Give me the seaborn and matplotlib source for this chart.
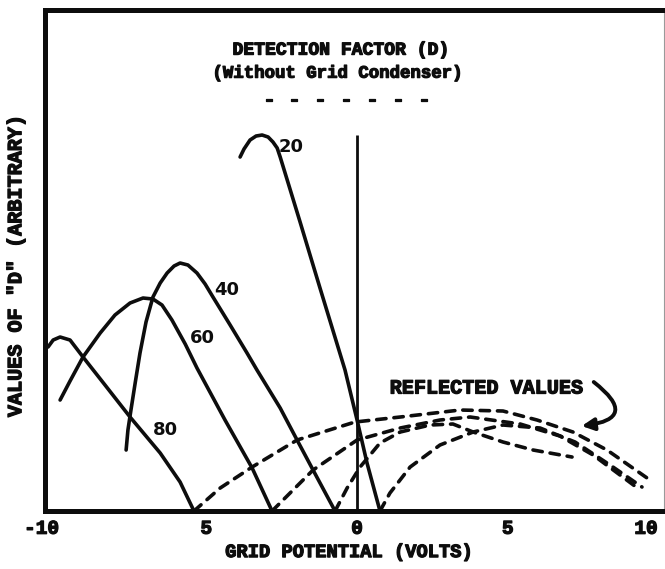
import numpy as np
import pandas as pd
import matplotlib
matplotlib.use("Agg")
import matplotlib.pyplot as plt
import matplotlib.patheffects as pe
import seaborn as sns
from matplotlib.transforms import ScaledTranslation

# ---- data (grid potential in volts, D in arbitrary units) ----
# solid curves: detection factor for plate voltages 20, 40, 60, 80
x20 = [-3.88, -3.75, -3.55, -3.35, -3.15, -2.95, -2.79, -2.65, -2.55, -1.89, -1.23, -0.40, 0.00, 0.33, 0.76]
y20 = [35.4, 36.2, 37.1, 37.5, 37.6, 37.4, 36.9, 36.3, 35.4, 28.9, 22.3, 14.1, 9.1, 4.8, 0.0]

x40 = [-7.66, -7.60, -7.50, -7.36, -7.20, -7.00, -6.77, -6.53, -6.30, -6.07, -5.87, -5.61, -5.31,
       -5.04, -4.78, -4.21, -3.65, -3.32, -2.55, -1.99, -1.46, -0.73]
y40 = [6.1, 8.1, 10.1, 12.8, 15.8, 18.9, 21.4, 22.8, 23.8, 24.5, 24.8, 24.6, 23.8,
       22.7, 21.4, 18.6, 15.8, 14.1, 10.3, 7.1, 4.1, 0.0]

x60 = [-9.85, -9.52, -9.09, -8.52, -8.03, -7.53, -7.10, -6.77, -6.47, -6.14, -5.70, -5.31, -4.38, -3.48, -2.82]
y60 = [11.1, 13.0, 15.4, 17.8, 19.6, 20.8, 21.3, 21.2, 20.6, 19.1, 16.7, 14.3, 9.1, 4.3, 0.0]

x80 = [-10.25, -10.08, -9.85, -9.52, -9.09, -8.36, -7.53, -6.53, -5.87, -5.41]
y80 = [16.4, 17.1, 17.4, 17.1, 15.4, 12.6, 9.4, 5.8, 2.9, 0.0]

# dashed curves: reflected values
rx80 = [-5.41, -4.54, -3.48, -1.99, -0.07, 1.43, 3.42, 4.84, 5.97, 7.16, 8.29, 9.62]
ry80 = [0.0, 2.3, 4.4, 7.1, 8.9, 9.4, 10.1, 10.0, 9.1, 7.9, 6.1, 3.3]

rx60 = [-2.82, -1.46, 0.00, 1.43, 2.75, 3.75, 5.41, 6.73, 7.83, 9.39]
ry60 = [0.0, 4.1, 7.1, 8.3, 9.1, 9.4, 8.7, 7.5, 5.6, 2.1]

rx40 = [-0.73, -0.33, 0.10, 0.76, 1.43, 2.42, 3.18, 3.85, 4.84, 5.84, 7.13]
ry40 = [0.0, 2.3, 4.4, 6.8, 7.9, 8.6, 8.7, 7.9, 6.9, 6.1, 5.4]

rx20 = [0.76, 1.09, 1.76, 2.75, 3.85, 4.84, 6.07, 7.23, 8.39, 9.45]
ry20 = [0.0, 1.8, 4.4, 6.6, 7.9, 8.6, 8.3, 6.9, 4.6, 2.4]

curve_labels = ["20", "40", "60", "80"]
label_x = [-2.19, -4.31, -5.14, -6.37]
label_y = [36.4, 22.1, 17.3, 8.1]

tick_values = [-10, -5, 0, 5, 10]
tick_labels = ["-10", "5", "0", "5", "10"]

title1 = "DETECTION FACTOR (D)"
title2 = "(Without Grid Condenser)"
xlabel = "GRID POTENTIAL (VOLTS)"
ylabel = 'VALUES OF "D" (ARBITRARY)'
reflected_text = "REFLECTED VALUES"
reflected_pos = (4.30, 12.3)
arrow_start = (7.85, 12.9)
arrow_end = (7.45, 8.5)

# ---- long table ----
rows = []
for name, xs, ys in [("20", x20, y20), ("40", x40, y40), ("60", x60, y60), ("80", x80, y80)]:
    for i, (a, b) in enumerate(zip(xs, ys)):
        rows.append(dict(curve=name, kind="solid", order=i, x=a, y=b))
for name, xs, ys in [("20", rx20, ry20), ("40", rx40, ry40), ("60", rx60, ry60), ("80", rx80, ry80)]:
    for i, (a, b) in enumerate(zip(xs, ys)):
        rows.append(dict(curve=name, kind="reflected", order=i, x=a, y=b))
df = pd.DataFrame(rows)

sns.set_theme(style="white")
mono = ["Liberation Mono", "DejaVu Sans Mono"]
plt.rcParams["font.family"] = mono

fig = plt.figure(figsize=(6.65, 5.69), dpi=100)
ax = fig.add_axes([0.0677, 0.1019, 0.9985 - 0.0677, 0.9824 - 0.1019])
ink = "#0d0d0d"
heavy = [pe.withStroke(linewidth=0.9, foreground=ink)]

for (name, kind), g in df.groupby(["curve", "kind"]):
    g = g.sort_values("order")
    sns.lineplot(data=g, x="x", y="y", sort=False, estimator=None, ax=ax,
                 color=ink, lw=2.6, legend=False)
    ln = ax.lines[-1]
    ln.set_solid_joinstyle("round")
    ln.set_solid_capstyle("round")
    if kind == "reflected":
        ln.set_dashes((2.6, 2.2))
        ln.set_dash_capstyle("round")
        ln.set_dash_joinstyle("round")

# zero grid-potential reference line, up to the top of the 20 V curve
ax.vlines(0, 0, max(y20), color=ink, lw=2.0)

ax.set_xlim(-10.35, 10.18)
ax.set_ylim(0, 50.1)
ax.set_xticks(tick_values)
ax.set_xticklabels(tick_labels, fontsize=14, fontweight="bold", color=ink)
ax.set_yticks([])
ax.tick_params(axis="x", length=0, pad=7)

offsets = {0: -10, 4: -9}
for i, lab in enumerate(ax.get_xticklabels()):
    lab.set_path_effects(heavy)
    if i in offsets:
        lab.set_transform(lab.get_transform() + ScaledTranslation(offsets[i] / 72, 0, fig.dpi_scale_trans))

for side in ["left", "bottom", "top"]:
    ax.spines[side].set_linewidth(3.6)
    ax.spines[side].set_color(ink)
ax.spines["right"].set_linewidth(0.8)
ax.spines["right"].set_color("#9a9a9a")

ax.set_xlabel(xlabel, fontsize=13.5, fontweight="bold", color=ink, path_effects=heavy)
ax.xaxis.set_label_coords(0.491, -0.066)
ax.set_ylabel(ylabel, fontsize=14.5, fontweight="bold", color=ink, path_effects=heavy)
ax.yaxis.set_label_coords(-0.032, 0.49)

ax.text(0.4766, 0.920, title1, transform=ax.transAxes, ha="center", va="center",
        fontsize=13, fontweight="bold", color=ink, path_effects=heavy)
ax.text(0.4717, 0.874, title2, transform=ax.transAxes, ha="center", va="center",
        fontsize=12.5, fontweight="bold", color=ink, path_effects=heavy)
ax.text(0.486, 0.820, "- - - - - - -", transform=ax.transAxes, ha="center", va="center",
        fontsize=15.5, fontweight="bold", color=ink, path_effects=heavy)

for t, lx, ly in zip(curve_labels, label_x, label_y):
    ax.text(lx, ly, t, ha="center", va="center", fontsize=13, fontweight="bold",
            color=ink, family=["DejaVu Sans"])

ax.text(reflected_pos[0], reflected_pos[1], reflected_text, ha="center", va="center",
        fontsize=14.5, fontweight="bold", color=ink, path_effects=heavy)
ax.annotate("", xy=arrow_end, xytext=arrow_start,
            arrowprops=dict(arrowstyle="-|>", lw=2.8, color=ink, mutation_scale=18,
                            connectionstyle="arc3,rad=-1.2", shrinkA=0, shrinkB=0))

fig.savefig("out.png", dpi=100)
